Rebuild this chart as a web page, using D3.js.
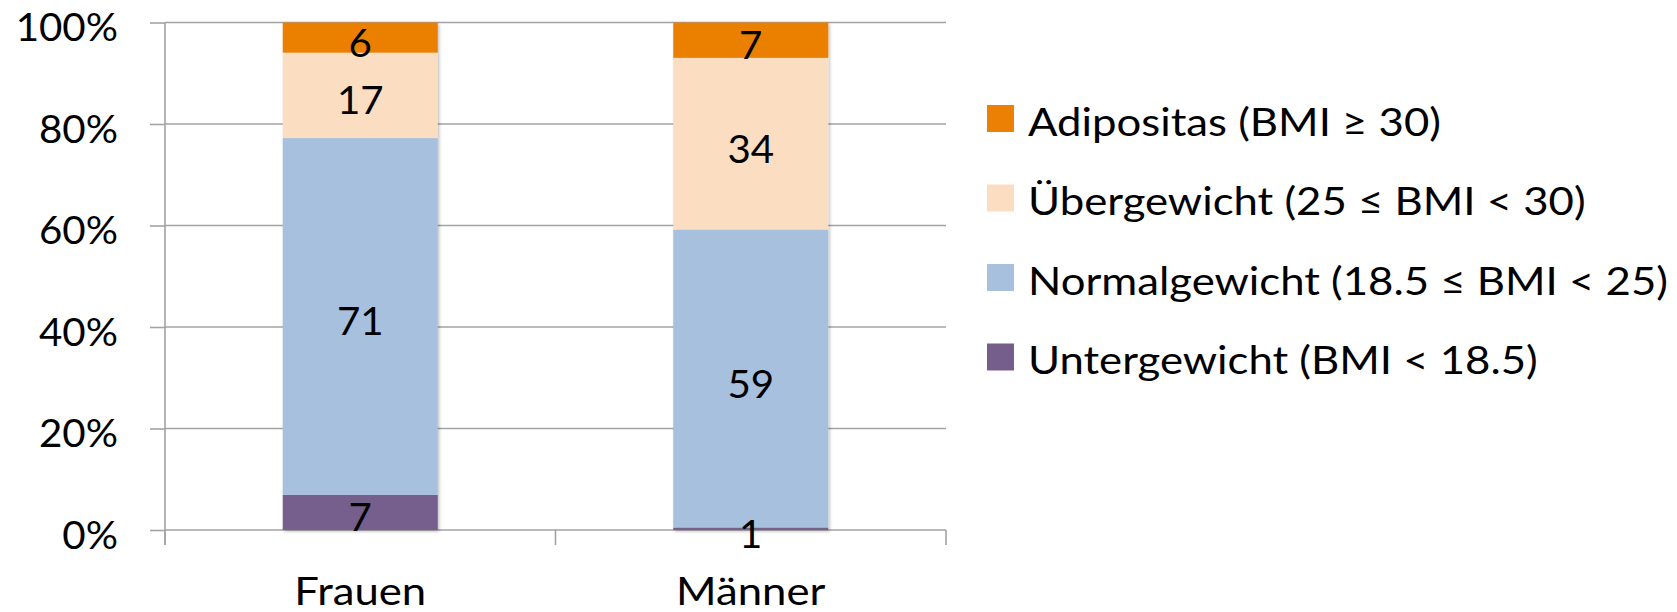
<!DOCTYPE html>
<html>
<head>
<meta charset="utf-8">
<script src="https://cdn.jsdelivr.net/npm/d3@7"></script>
<style>
  body { margin: 0; background: #fff; }
  svg text { font-family: Lato, "Open Sans", "DejaVu Sans", sans-serif; fill: #000; }
</style>
</head>
<body>
<svg width="1677" height="612"></svg>
<script>
// data
var groups = ["Frauen", "Männer"];
var categories = ["Untergewicht", "Normalgewicht", "Übergewicht", "Adipositas"];
var legendLabels = ["Untergewicht (BMI < 18.5)", "Normalgewicht (18.5 ≤ BMI < 25)", "Übergewicht (25 ≤ BMI < 30)", "Adipositas (BMI ≥ 30)"];
var untergewicht = [7, 0.5];   // men's bar is only a hairline, label rounds to 1
var normalgewicht = [71, 59];
var uebergewicht = [17, 34];
var adipositas = [6, 7];
var yTicks = [0, 0.2, 0.4, 0.6, 0.8, 1];
var colors = ["#765E8C", "#A7C0DE", "#FBDDC2", "#EB8004"];

var rows = groups.map(function(g, i) {
    return {group: g, Untergewicht: untergewicht[i], Normalgewicht: normalgewicht[i],
            "Übergewicht": uebergewicht[i], Adipositas: adipositas[i]};
});

var svg = d3.select("svg"),
    margin = {top: 22.5, left: 165, right: 731, bottom: 82},
    width = +svg.attr("width") - margin.left - margin.right,
    height = +svg.attr("height") - margin.top - margin.bottom,
    g = svg.append("g").attr("transform", "translate(" + margin.left + "," + margin.top + ")");

var x = d3.scaleBand().domain(groups).range([0, width]).padding(0),
    y = d3.scaleLinear().domain([0, 1]).range([height, 0]);

var barW = x.bandwidth() * 0.397;
var gridColor = "#A3A3A3";

// the original text is wider than Lato, stretch it a bit
function stretch(sel, sx) {
    sel.each(function() {
        var t = d3.select(this),
            tx = +t.attr("x") || 0,
            ty = +t.attr("y") || 0;
        t.attr("x", 0).attr("y", 0)
         .attr("transform", "translate(" + tx + "," + ty + ") scale(" + sx + ",1)");
    });
}

// shadow for the bars
var defs = svg.append("defs");
defs.append("filter").attr("id", "shadow")
    .attr("x", "-10%").attr("y", "-10%").attr("width", "130%").attr("height", "120%")
  .append("feDropShadow")
    .attr("dx", 1.5).attr("dy", 1.5).attr("stdDeviation", 1.5)
    .attr("flood-color", "#000").attr("flood-opacity", 0.25);

// y axis with gridlines
var yAxis = g.append("g")
    .call(d3.axisLeft(y).tickValues(yTicks).tickFormat(d3.format(".0%"))
        .tickSize(15).tickPadding(32));
yAxis.select(".domain").remove();
yAxis.selectAll(".tick line").attr("stroke", gridColor).attr("stroke-width", 1.6);
yAxis.selectAll(".tick text").attr("dy", "0.48em").style("font-size", "38px")
    .call(stretch, 1.06);

g.append("g")
  .selectAll("line")
  .data(yTicks)
  .join("line")
    .attr("x1", 0).attr("x2", width)
    .attr("y1", d => y(d)).attr("y2", d => y(d))
    .attr("stroke", gridColor).attr("stroke-width", 1.6);

g.append("line")
    .attr("x1", 0).attr("x2", 0)
    .attr("y1", 0).attr("y2", height + 15)
    .attr("stroke", gridColor).attr("stroke-width", 1.6);

// category ticks sit between the groups
var bounds = groups.map(d => x(d)).concat([width]);
g.append("g")
  .selectAll("line")
  .data(bounds)
  .join("line")
    .attr("x1", d => d).attr("x2", d => d)
    .attr("y1", height).attr("y2", height + 15)
    .attr("stroke", gridColor).attr("stroke-width", 1.6);

// stacked bars (100%)
var series = d3.stack().keys(categories).offset(d3.stackOffsetExpand)(rows);

var layer = g.append("g").attr("filter", "url(#shadow)")
  .selectAll("g")
  .data(series)
  .join("g")
    .attr("fill", (d, i) => colors[i]);

layer.selectAll("rect")
  .data(d => d)
  .join("rect")
    .attr("x", d => x(d.data.group) + (x.bandwidth() - barW) / 2)
    .attr("y", d => y(d[1]))
    .attr("width", barW)
    .attr("height", d => y(d[0]) - y(d[1]));

// value labels
g.append("g")
  .selectAll("g")
  .data(series)
  .join("g")
  .selectAll("text")
  .data(function(d) { var key = d.key; return d.map(p => ({p: p, v: p.data[key]})); })
  .join("text")
    .attr("x", d => x(d.p.data.group) + x.bandwidth() / 2)
    .attr("y", d => (y(d.p[0]) + y(d.p[1])) / 2)
    .attr("dy", "0.5em")
    .attr("text-anchor", "middle")
    .style("font-size", "38px")
    .text(d => Math.round(d.v))
    .call(stretch, 1.06);

// category labels
g.append("g")
  .selectAll("text")
  .data(groups)
  .join("text")
    .attr("x", d => x(d) + x.bandwidth() / 2)
    .attr("y", height + 75)
    .attr("text-anchor", "middle")
    .style("font-size", "38px")
    .text(d => d)
    .call(stretch, 1.15);

// legend
var legend = svg.append("g")
    .attr("transform", "translate(987,105)");

var item = legend.selectAll("g")
  .data(d3.range(categories.length).reverse())
  .join("g")
    .attr("transform", (d, i) => "translate(0," + (i * 79.5) + ")");

item.append("rect")
    .attr("width", 27)
    .attr("height", 27)
    .attr("fill", d => colors[d]);

item.append("text")
    .attr("x", 41)
    .attr("y", 30.5)
    .style("font-size", "38px")
    .text(d => legendLabels[d])
    .call(stretch, 1.15);
</script>
</body>
</html>
